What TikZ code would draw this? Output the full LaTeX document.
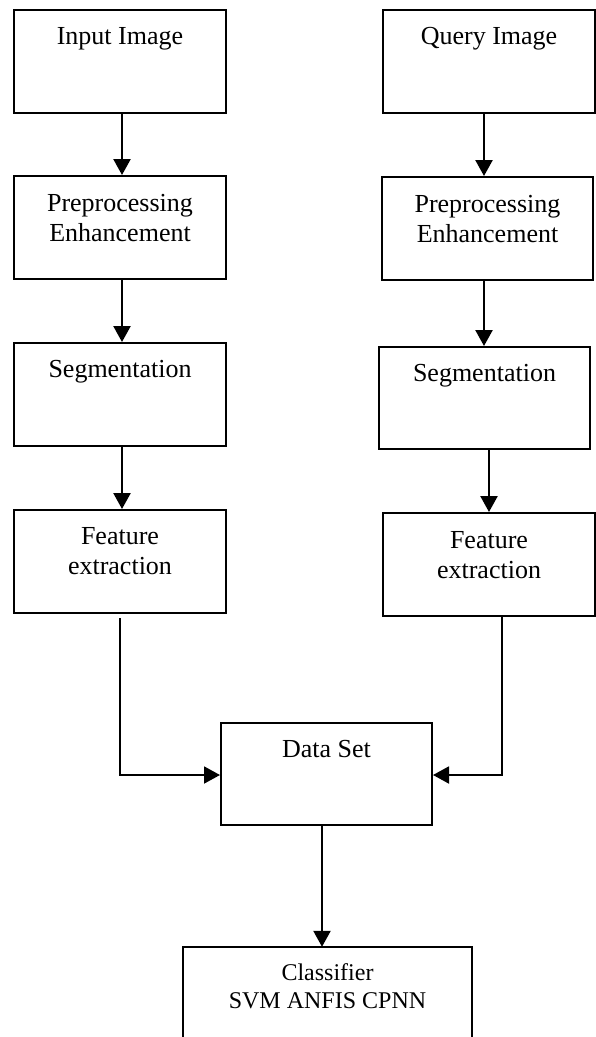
\documentclass[tikz,border=0pt]{standalone}
\usepackage{fontspec}
\setmainfont{Liberation Serif}
\usetikzlibrary{arrows.meta}
\begin{document}
\begin{tikzpicture}[x=1pt,y=-1pt,
  box/.style={draw=black,line width=2pt,minimum width=212pt,minimum height=103pt,inner sep=0pt},
  lbl/.style={anchor=north,inner sep=0pt,align=center,font=\fontsize{26}{30}\selectfont},
  lblsm/.style={anchor=north,inner sep=0pt,align=center,font=\fontsize{24}{28}\selectfont},
  arr/.style={line width=2.4pt,-{Triangle[length=16pt,width=17pt]}},
  link/.style={line width=1.9pt,-{Triangle[length=16pt,width=17pt]}}]
\useasboundingbox (0,0) rectangle (596,1037);
% left column
\node[box] (in) at (120,61.5) {};
\node[box] (pl) at (120,227.5) {};
\node[box] (sl) at (120,394.5) {};
\node[box] (fl) at (120,561.5) {};
% right column
\node[box] (q) at (489,61.5) {};
\node[box,minimum width=211pt] (pr) at (487.5,228.5) {};
\node[box,minimum width=211pt,minimum height=102pt] (sr) at (484.5,398) {};
\node[box] (fr) at (489,564.5) {};
% data set and classifier
\node[box,minimum width=211pt,minimum height=102pt] (ds) at (326.5,774) {};
\node[inner sep=0pt,minimum width=289pt,minimum height=100pt] (cl) at (327.5,997) {};
\draw[line width=2pt] (cl.south west) |- (cl.north) -| (cl.south east);
% labels
\node[lbl] (tin) at ([yshift=-14]in.north) {\strut Input Image};
\node[lbl] (tpl) at ([yshift=-15]pl.north) {\strut Preprocessing\\Enhancement};
\node[lbl] (tsl) at ([yshift=-14]sl.north) {\strut Segmentation};
\node[lbl] (tfl) at ([yshift=-14]fl.north) {\strut Feature\\extraction};
\node[lbl] (tq) at ([yshift=-14]q.north) {\strut Query Image};
\node[lbl] (tpr) at ([yshift=-15]pr.north) {\strut Preprocessing\\Enhancement};
\node[lbl] (tsr) at ([yshift=-14]sr.north) {\strut Segmentation};
\node[lbl] (tfr) at ([yshift=-15]fr.north) {\strut Feature\\extraction};
\node[lbl] (tds) at ([yshift=-14]ds.north) {\strut Data Set};
\node[lblsm] (tcl) at ([yshift=-13.4]cl.north) {\strut Classifier\\SVM ANFIS CPNN};
% x positions of connectors
\coordinate (xl) at (122,0);
\coordinate (xa) at (484,0);
\coordinate (xb) at (489,0);
\coordinate (xc) at (322,0);
\coordinate (fls) at (120,618);
\coordinate (frs) at (502,617);
% arrows
\draw[arr] (in.south -| xl) -- (pl.north -| xl);
\draw[arr] (pl.south -| xl) -- (sl.north -| xl);
\draw[arr] (sl.south -| xl) -- (fl.north -| xl);
\draw[arr] (q.south -| xa) -- (pr.north -| xa);
\draw[arr] (pr.south -| xa) -- (sr.north -| xa);
\draw[arr] (sr.south -| xb) -- (fr.north -| xb);
\draw[link] (fls) |- ([yshift=-1]ds.west);
\draw[link] (frs) |- ([yshift=-1]ds.east);
\draw[arr] (ds.south -| xc) -- (cl.north -| xc);
\end{tikzpicture}
\end{document}
